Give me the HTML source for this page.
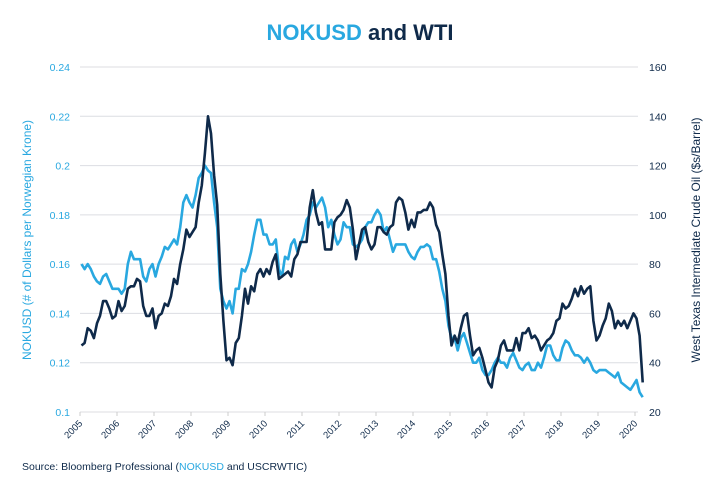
<!DOCTYPE html>
<html><head><meta charset="utf-8"><style>
body{margin:0;background:#fff;font-family:"Liberation Sans",sans-serif}
svg{display:block}
</style></head><body>
<svg id="chart" width="720" height="500" viewBox="0 0 720 500">
<text x="360" y="40" text-anchor="middle" font-size="22" font-weight="bold"><tspan fill="#29a8e0">NOKUSD</tspan><tspan fill="#0f2a4a"> and WTI</tspan></text>
<g id="grid"></g><g id="axes"></g><g id="series"></g>
<text transform="translate(31,240) rotate(-90)" text-anchor="middle" font-size="12" fill="#29a8e0">NOKUSD (# of Dollars per Norwegian Krone)</text>
<text transform="translate(700,240) rotate(-90)" text-anchor="middle" font-size="12" fill="#0f2a4a">West Texas Intermediate Crude Oil ($s/Barrel)</text>
<text x="22" y="470" font-size="10.5" fill="#0f2a4a">Source: Bloomberg Professional (<tspan fill="#29a8e0">NOKUSD</tspan> and USCRWTIC)</text>
</svg>
<script>
const leftTicks=[0.1,0.12,0.14,0.16,0.18,0.2,0.22,0.24];
const leftTickLabels=["0.1","0.12","0.14","0.16","0.18","0.2","0.22","0.24"];
const rightTicks=[20,40,60,80,100,120,140,160];
const yearLabels=["2005","2006","2007","2008","2009","2010","2011","2012","2013","2014","2015","2016","2017","2018","2019","2020"];
const startYear=2005;
const nokusd=[0.160,0.158,0.160,0.158,0.155,0.153,0.152,0.155,0.156,0.153,0.150,0.150,
0.150,0.148,0.150,0.160,0.165,0.162,0.162,0.162,0.155,0.153,0.158,0.160,
0.155,0.160,0.163,0.167,0.166,0.168,0.170,0.168,0.175,0.185,0.188,0.185,
0.183,0.188,0.195,0.197,0.200,0.198,0.197,0.185,0.175,0.150,0.145,0.142,
0.145,0.140,0.150,0.150,0.158,0.157,0.160,0.165,0.172,0.178,0.178,0.172,
0.172,0.168,0.168,0.170,0.158,0.155,0.163,0.162,0.168,0.170,0.165,0.168,
0.172,0.178,0.180,0.185,0.183,0.185,0.187,0.183,0.175,0.178,0.172,0.168,
0.170,0.177,0.175,0.175,0.168,0.167,0.168,0.170,0.175,0.177,0.177,0.180,
0.182,0.180,0.173,0.175,0.170,0.165,0.168,0.168,0.168,0.168,0.165,0.163,
0.162,0.165,0.167,0.167,0.168,0.167,0.162,0.162,0.157,0.150,0.145,0.135,
0.130,0.130,0.125,0.130,0.132,0.128,0.124,0.120,0.120,0.122,0.117,0.115,
0.115,0.117,0.120,0.122,0.120,0.120,0.118,0.122,0.124,0.121,0.118,0.117,
0.119,0.120,0.117,0.117,0.120,0.118,0.122,0.127,0.127,0.123,0.121,0.121,
0.126,0.129,0.128,0.125,0.123,0.123,0.122,0.120,0.122,0.120,0.117,0.116,
0.117,0.117,0.117,0.116,0.115,0.114,0.116,0.112,0.111,0.110,0.109,0.111,
0.113,0.108,0.106];
const wti=[47,48,54,53,50,56,59,65,65,62,58,59,
65,61,63,70,71,71,74,73,63,59,59,62,
54,59,60,64,63,67,74,72,80,86,94,91,
93,95,105,112,125,140,133,116,104,76,57,41,
42,39,48,50,59,70,64,71,69,76,78,75,
78,76,81,84,74,75,76,77,75,82,84,89,
89,89,103,110,101,96,97,86,86,86,97,99,
100,102,106,103,94,82,88,94,95,89,86,88,
95,95,93,92,95,96,105,107,106,101,94,98,
95,101,101,102,102,105,103,96,93,84,76,59,
47,51,48,54,59,60,51,43,45,46,42,37,
32,30,38,41,47,49,45,45,45,50,45,52,
52,54,50,51,49,45,47,49,50,52,57,58,
64,62,63,66,70,67,71,68,70,71,57,49,
51,55,58,64,61,54,57,55,57,54,57,60,
58,51,32];
const X0=80,PX=37,Y0=412,Y1=67,R=642;
const ns="http://www.w3.org/2000/svg";
function x(t){return X0+(t-startYear)*PX;}
function yl(v){return Y0+(v-0.1)/(0.24-0.1)*(Y1-Y0);}
function yr(v){return Y0+(v-20)/(160-20)*(Y1-Y0);}
function mk(tag,attrs,parent){const e=document.createElementNS(ns,tag);for(const k in attrs)e.setAttribute(k,attrs[k]);parent.appendChild(e);return e;}
const grid=document.getElementById('grid'),axes=document.getElementById('axes'),ser=document.getElementById('series');
leftTicks.forEach((v,i)=>{
 const l=mk('line',{x1:X0,x2:R-4,y1:yl(v),y2:yl(v),stroke:'#dcdde2','stroke-width':1},grid);
 
 
 const t=mk('text',{x:70,y:yl(v)+4,'text-anchor':'end','font-size':10.5,fill:'#29a8e0'},axes);
 t.textContent=leftTickLabels[i];
 
 
});
rightTicks.forEach(v=>{
 const t=mk('text',{x:649,y:yr(v)+4,'font-size':10.5,fill:'#0f2a4a'},axes);
 t.textContent=String(v);
 
 
});
yearLabels.forEach((lab,i)=>{
 const xx=x(startYear+i);
 const tk=mk('line',{x1:xx,x2:xx,y1:Y0,y2:Y0+4,stroke:'#ccc'},axes);
 
 
 const t=mk('text',{x:xx+3,y:Y0+12,'text-anchor':'end','font-size':9.5,fill:'#0f2a4a',transform:`rotate(-45 ${xx+3} ${Y0+12})`},axes);
 t.textContent=lab;
 
 
});
function path(arr,fy,color,name){
 const d=arr.map((v,i)=>(i?'L':'M')+x(startYear+(i+0.5)/12).toFixed(1)+','+fy(v).toFixed(1)).join('');
 const p=mk('path',{d:d,fill:'none',stroke:color,'stroke-width':2.6,'stroke-linejoin':'round'},ser);
 
 
}
path(nokusd,yl,'#29a8e0','nokusd-line');
path(wti,yr,'#0f2a4a','wti-line');
</script>
</body></html>
